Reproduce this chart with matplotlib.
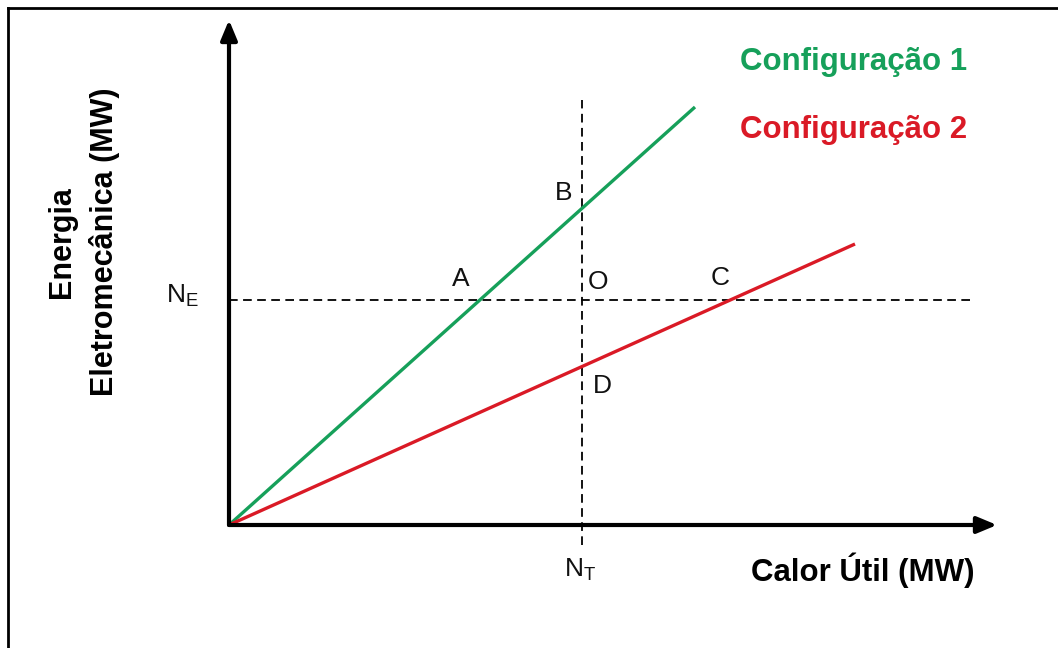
import matplotlib
matplotlib.use("Agg")
import matplotlib.pyplot as plt

plt.rcParams['font.family'] = ['Liberation Sans', 'DejaVu Sans']
plt.rcParams['mathtext.fontset'] = 'custom'
plt.rcParams['mathtext.rm'] = 'Liberation Sans'
plt.rcParams['mathtext.it'] = 'Liberation Sans'

# ---- data (arbitrary units) ----
n_t = 35.3          # N_T (heat)
n_e = 22.5          # N_E (electromechanical energy)
config1_x = [0.0, 46.6]
config1_y = [0.0, 41.8]
config2_x = [0.0, 62.6]
config2_y = [0.0, 28.1]
series_names = ["Configuração 1", "Configuração 2"]
point_labels = ["A", "B", "O", "C", "D"]
point_x = [23.2, 33.5, 36.9, 49.1, 37.3]
point_y = [24.6, 33.2, 24.3, 24.7, 13.9]
x_label = "Calor Útil (MW)"
y_label = "Energia\nEletromecânica (MW)"

green = '#16a05a'
red = '#da1a26'

fig = plt.figure(figsize=(10.58, 6.48), dpi=100)
ax = fig.add_axes([0, 0, 1, 1])
ax.set_xlim(-22.9, 82.9)
ax.set_ylim(-12.3, 52.5)
ax.axis('off')

# outer frame (left and top edges)
fig.add_artist(plt.Line2D([0.0075, 0.0075], [0, 0.987], transform=fig.transFigure, color='black', lw=2))
fig.add_artist(plt.Line2D([0.0075, 1.0], [0.987, 0.987], transform=fig.transFigure, color='black', lw=2))

# axes with arrows
arrow = dict(arrowstyle='-|>,head_length=1.2,head_width=0.5', lw=3, color='black',
             shrinkA=0, shrinkB=0)
ax.annotate('', xy=(0, 50.5), xytext=(0, 0), arrowprops=arrow)
ax.annotate('', xy=(76.8, 0), xytext=(0, 0), arrowprops=arrow)

# dashed reference lines
ax.plot([n_t, n_t], [-2.0, 42.5], color='black', lw=1.3, dashes=(4.8, 3))
ax.plot([0, 74.6], [n_e, n_e], color='black', lw=1.3, dashes=(4.8, 3))

# configuration lines
ax.plot(config1_x, config1_y, color=green, lw=2.4, solid_capstyle='butt')
ax.plot(config2_x, config2_y, color=red, lw=2.4, solid_capstyle='butt')

# point labels
for lab, px, py in zip(point_labels, point_x, point_y):
    ax.text(px, py, lab, fontsize=19, ha='center', va='center', color='#111111')

ax.text(-3.0, n_e + 0.45, r'$\mathrm{N_E}$', fontsize=19, ha='right', va='center', color='#111111')
ax.text(n_t - 0.2, -4.5, r'$\mathrm{N_T}$', fontsize=19, ha='center', va='center', color='#111111')

ax.text(74.6, -4.5, x_label, fontsize=22.5, fontweight='bold', ha='right', va='center')
ax.text(-14.5, 28.3, y_label, fontsize=22, fontweight='bold', ha='center', va='center',
        rotation=90, multialignment='center', linespacing=1.5)

ax.text(51.1, 46.3, series_names[0], fontsize=22.5, fontweight='bold', color=green,
        ha='left', va='center')
ax.text(51.1, 39.5, series_names[1], fontsize=22.5, fontweight='bold', color=red,
        ha='left', va='center')

fig.savefig('out.png', dpi=100)
